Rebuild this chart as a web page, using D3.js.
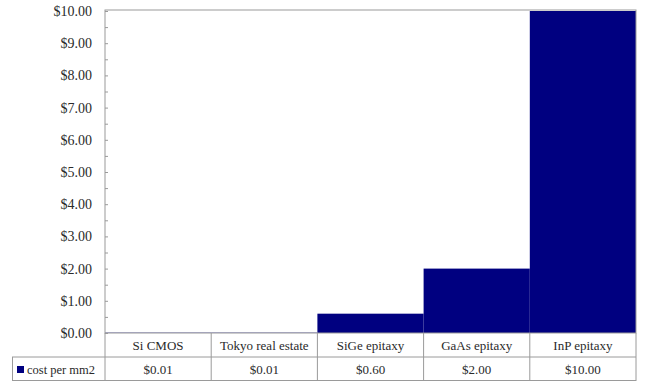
<!DOCTYPE html>
<html>
<head>
<meta charset="utf-8" />
<script src="https://cdnjs.cloudflare.com/ajax/libs/d3/7.8.5/d3.min.js"></script>
<style>
  body { margin: 0; background: #fff; }
  svg { display: block; }
</style>
</head>
<body>
<div id="chart"></div>
<script>
    const categories = ['Si CMOS', 'Tokyo real estate', 'SiGe epitaxy', 'GaAs epitaxy', 'InP epitaxy']
    const costs = [0.01, 0.01, 0.60, 2.00, 10.00]
    const seriesName = 'cost per mm2'
    const yTicks = [0, 1, 2, 3, 4, 5, 6, 7, 8, 9, 10]
    const yMinorTicks = d3.range(0, 10.01, 0.5)

    const W = 646, H = 382
    const plotLeft = 105, plotRight = 636, plotTop = 11, zero = 333
    const rowH = 24
    const legendLeft = 12
    const lineColor = '#9a9a9a'
    const serif = "'Liberation Serif', 'DejaVu Serif', 'Times New Roman', serif"

    const svg = d3.select('#chart')
        .append('svg')
        .attr('width', W)
        .attr('height', H)
        .attr('font-family', serif)

    let xScale = d3.scaleBand()
        .domain(categories)
        .range([plotLeft, plotRight])
        .padding(0)

    let yScale = d3.scaleLinear()
        .domain([0, 10])
        .range([zero, plotTop])

    const fmt = d3.format('$.2f')

    // bars
    svg.selectAll('.bar')
        .data(categories)
        .enter()
        .append('rect')
            .attr('class', 'bar')
            .attr('x', d => xScale(d))
            .attr('width', xScale.bandwidth())
            .attr('y', (d, i) => yScale(costs[i]))
            .attr('height', (d, i) => zero - yScale(costs[i]))
            .attr('fill', '#000080')

    // plot frame
    svg.append('rect')
        .attr('x', plotLeft)
        .attr('y', plotTop - 1)
        .attr('width', plotRight - plotLeft)
        .attr('height', zero - plotTop + 1)
        .attr('fill', 'none')
        .attr('stroke', lineColor)

    // y axis labels
    const yAxis = svg.append('g')
        .attr('transform', 'translate(' + plotLeft + ',0)')
        .call(d3.axisLeft(yScale)
            .tickValues(yTicks)
            .tickSize(0)
            .tickPadding(13)
            .tickFormat(fmt))
    yAxis.attr('font-family', serif).attr('font-size', 14)
    yAxis.select('.domain').remove()
    yAxis.selectAll('text')
        .attr('fill', '#2a2a2a')

    // inward minor ticks
    const yMinor = svg.append('g')
        .attr('transform', 'translate(' + plotLeft + ',0)')
        .call(d3.axisRight(yScale)
            .tickValues(yMinorTicks)
            .tickSize(3)
            .tickFormat(''))
    yMinor.select('.domain').remove()
    yMinor.selectAll('line').attr('stroke', lineColor)

    // data table
    const table = svg.append('g')
        .attr('font-family', serif)
        .attr('font-size', 13)
        .attr('fill', '#2a2a2a')
    const row1 = zero, row2 = zero + rowH, row3 = zero + 2 * rowH

    table.append('line')
        .attr('x1', legendLeft).attr('x2', plotRight)
        .attr('y1', row2).attr('y2', row2)
        .attr('stroke', lineColor)
    table.append('line')
        .attr('x1', legendLeft).attr('x2', plotRight)
        .attr('y1', row3 - 0.5).attr('y2', row3 - 0.5)
        .attr('stroke', lineColor)
    table.append('line')
        .attr('x1', legendLeft + 0.5).attr('x2', legendLeft + 0.5)
        .attr('y1', row2).attr('y2', row3)
        .attr('stroke', lineColor)

    const edges = categories.map(c => xScale(c)).concat([plotRight])
    table.selectAll('.vline')
        .data(edges)
        .enter()
        .append('line')
            .attr('x1', d => d).attr('x2', d => d)
            .attr('y1', row1).attr('y2', row3)
            .attr('stroke', lineColor)

    table.selectAll('.cat')
        .data(categories)
        .enter()
        .append('text')
            .attr('x', d => xScale(d) + xScale.bandwidth() / 2)
            .attr('y', row1 + 17)
            .attr('text-anchor', 'middle')
            .text(d => d)

    table.selectAll('.val')
        .data(costs)
        .enter()
        .append('text')
            .attr('x', (d, i) => xScale(categories[i]) + xScale.bandwidth() / 2)
            .attr('y', row2 + 17)
            .attr('text-anchor', 'middle')
            .text(d => fmt(d))

    // legend key
    table.append('rect')
        .attr('x', legendLeft + 5)
        .attr('y', row2 + 9)
        .attr('width', 7)
        .attr('height', 7)
        .attr('fill', '#000080')
    table.append('text')
        .attr('x', legendLeft + 15)
        .attr('y', row2 + 17)
        .attr('font-size', 12.5)
        .text(seriesName)
</script>
</body>
</html>
